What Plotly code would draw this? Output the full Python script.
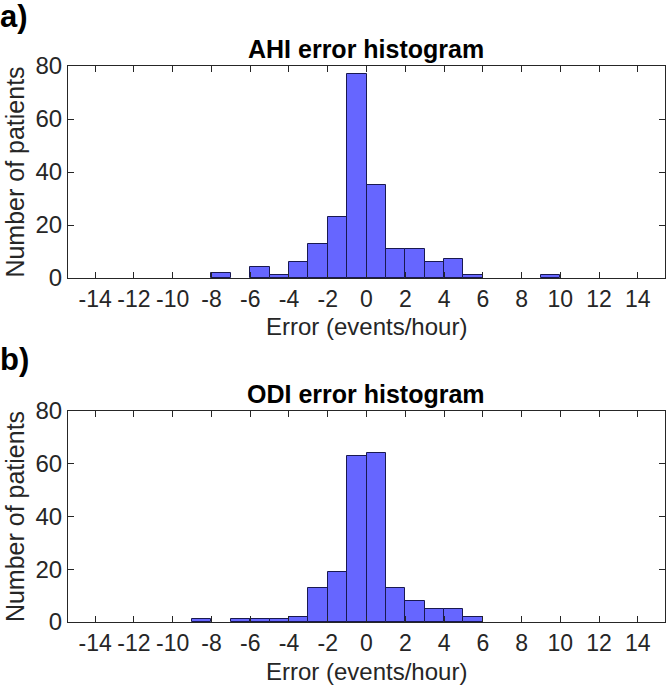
import plotly.graph_objects as go

# Bin left edges (bin width 1)
bin_left = list(range(-15, 15))
ahi_counts = [0, 0, 0, 0, 0, 0, 0, 2, 0, 4, 1, 6, 13, 23, 77,
              35, 11, 11, 6, 7, 1, 0, 0, 0, 1, 0, 0, 0, 0, 0]
odi_counts = [0, 0, 0, 0, 0, 0, 1, 0, 1, 1, 1, 2, 13, 19, 63,
              64, 13, 8, 5, 5, 2, 0, 0, 0, 0, 0, 0, 0, 0, 0]
x_ticks = [-14, -12, -10, -8, -6, -4, -2, 0, 2, 4, 6, 8, 10, 12, 14]
x_tick_labels = ["-14", "-12", "-10", "-8", "-6", "-4", "-2", "0", "2", "4", "6", "8", "10", "12", "14"]
y_ticks = [0, 20, 40, 60, 80]

W, H = 666, 694

FONT = "Liberation Sans, Arial, Helvetica, sans-serif"
AX = "#262626"
BAR = "rgb(102,102,255)"
EDGE = "rgb(25,25,80)"


def nonzero(counts):
    xs = [b + 0.5 for b, c in zip(bin_left, counts) if c > 0]
    ys = [c for c in counts if c > 0]
    return xs, ys


fig = go.Figure()
ax, ay = nonzero(ahi_counts)
ox, oy = nonzero(odi_counts)
fig.add_trace(go.Bar(x=ax, y=ay, width=1, marker=dict(color=BAR, line=dict(color=EDGE, width=1)),
                     xaxis="x", yaxis="y", showlegend=False))
fig.add_trace(go.Bar(x=ox, y=oy, width=1, marker=dict(color=BAR, line=dict(color=EDGE, width=1)),
                     xaxis="x2", yaxis="y2", showlegend=False))


def px_x(a, b):
    return [a / W, b / W]


def px_y(top, bottom):
    return [1 - bottom / H, 1 - top / H]


xcommon = dict(range=[-15.4, 15.4], tickvals=x_ticks, ticktext=x_tick_labels,
               ticks="inside", ticklen=6, tickcolor=AX,
               showline=True, linecolor=AX, linewidth=1, mirror="ticks", showgrid=False, zeroline=False,
               automargin=False,
               tickfont=dict(family=FONT, size=23, color=AX))
ycommon = dict(range=[0, 80], tickvals=y_ticks, ticks="inside", ticklen=6, tickcolor=AX,
               showline=True, linecolor=AX, linewidth=1, mirror="ticks", showgrid=False, zeroline=False,
               automargin=False,
               tickfont=dict(family=FONT, size=24, color=AX),
               title=dict(text="Number of patients", font=dict(family=FONT, size=25, color=AX), standoff=3))


def text_ann(text, xc, yc, size, color="black", anchor="center"):
    return dict(text=text, x=xc / W, y=1 - yc / H, xref="paper", yref="paper", showarrow=False,
                font=dict(family=FONT, size=size, color=color), xanchor=anchor, yanchor="middle")


fig.update_layout(
    width=W, height=H, margin=dict(l=0, r=0, t=0, b=0),
    paper_bgcolor="white", plot_bgcolor="white", bargap=0,
    xaxis=dict(domain=px_x(68, 665), anchor="y", **xcommon),
    yaxis=dict(domain=px_y(66, 278), anchor="x", **ycommon),
    xaxis2=dict(domain=px_x(68, 665), anchor="y2", **xcommon),
    yaxis2=dict(domain=px_y(411, 622), anchor="x2", **ycommon),
    annotations=[
        text_ann("<b>AHI error histogram</b>", 366, 49, 25),
        text_ann("<b>ODI error histogram</b>", 366, 394, 25),
        text_ann("Error (events/hour)", 366, 327, 24, AX),
        text_ann("Error (events/hour)", 366, 671, 24, AX),
        dict(text_ann("<b>a)</b>", 0, 17, 31, anchor="left"), xshift=-2),
        dict(text_ann("<b>b)</b>", 0, 359, 31, anchor="left"), xshift=-2),
    ],
)

fig.write_html("out.html", config={"displayModeBar": False},
               post_script="document.body.style.margin='0';document.body.style.padding='0';")
